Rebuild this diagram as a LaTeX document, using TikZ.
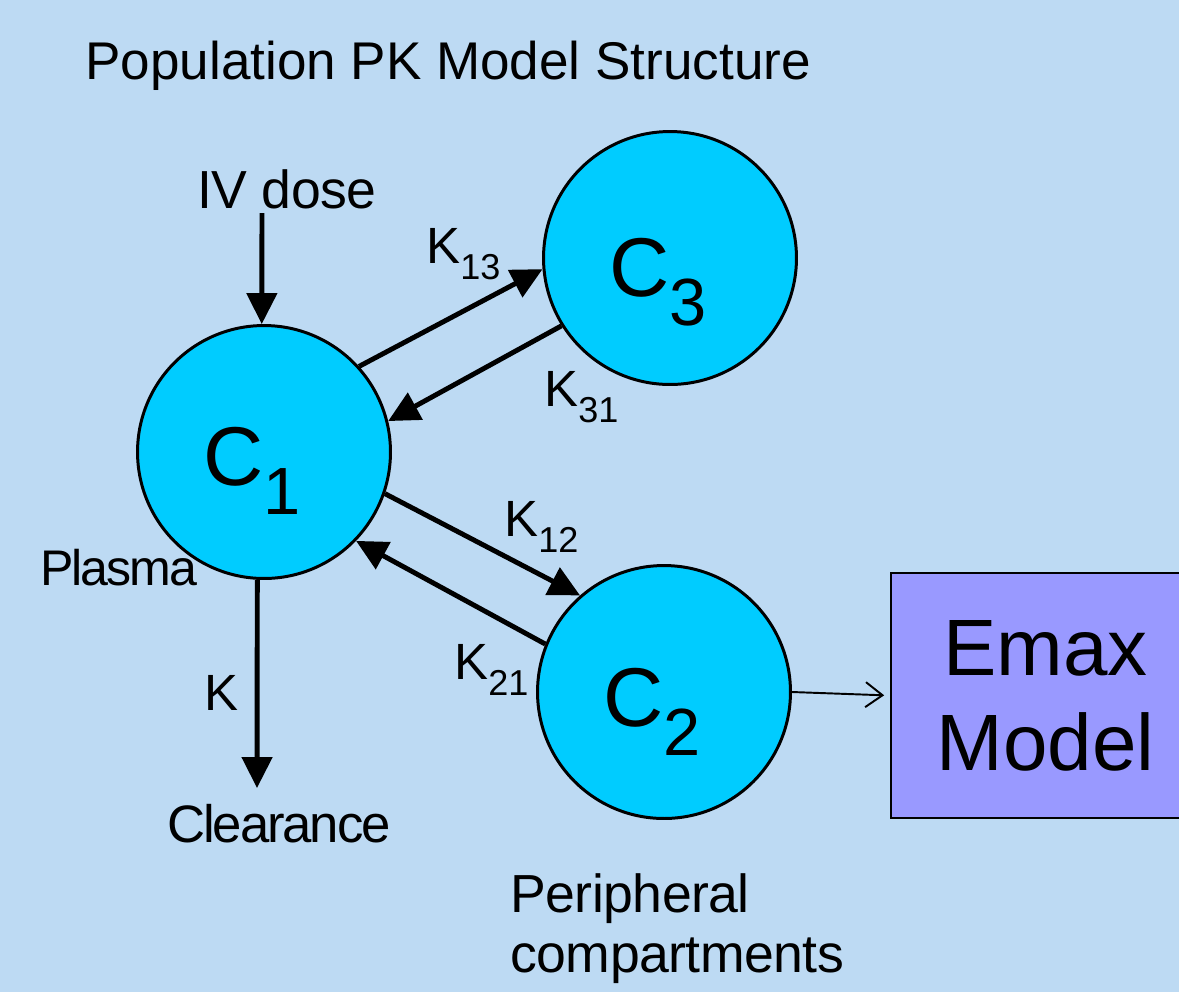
\documentclass[tikz,border=0pt]{standalone}
\usepackage{fontspec}
\setmainfont{Liberation Sans}
\newfontfamily\tightfont[LetterSpace=-4]{Liberation Sans}
\newfontfamily\midfont[LetterSpace=-1]{Liberation Sans}
\usetikzlibrary{arrows.meta}
\definecolor{bgblue}{RGB}{189,218,243}
\definecolor{compcyan}{RGB}{0,204,255}
\definecolor{emaxviolet}{RGB}{153,153,255}
\newcommand\ksub[1]{\raisebox{-9.5pt}{\fontsize{20.5}{24}\selectfont #1}}
\newcommand\csub[1]{\raisebox{-17pt}{\fontsize{38}{44}\selectfont #1}}
\tikzset{
  comp/.style={circle, draw=black, line width=1.7pt, fill=compcyan, minimum size=5.06cm, inner sep=0pt},
  ctext/.style={inner sep=0pt, font=\fontsize{47.5}{56}\selectfont},
  flow/.style={line width=2.8pt, -{Triangle[length=0.62cm,width=0.6cm]}},
  klabel/.style={inner sep=0pt, font=\fontsize{29}{35}\selectfont},
  lbl/.style={inner sep=0pt, font=\midfont\fontsize{30.5}{34}\selectfont},
  tlbl/.style={inner sep=0pt, font=\tightfont\fontsize{28.5}{34}\selectfont},
  thinarrow/.style={line width=1.1pt, -{Straight Barb[length=0.34cm,width=0.5cm]}},
}
\begin{document}
\begin{tikzpicture}[x=0.02cm, y=-0.02cm]
\useasboundingbox (0,0) rectangle (1179,992);
\fill[bgblue] (0,0) rectangle (1179,992);
\clip (0,0) rectangle (1179,992);

% title
\node[inner sep=0pt, anchor=base west, font=\fontsize{30.2}{36}\selectfont] (title) at (85,79) {Population PK Model Structure};

% compartments
\node[comp] (C1) at (264,452) {};
\node[comp] (C3) at (670,258) {};
\node[comp] (C2) at (664,692) {};
\node[ctext, anchor=base west] (C1t) at (203,485) {C\csub{1}};
\node[ctext, anchor=base west] (C3t) at (609,296) {C\csub{3}};
\node[ctext, anchor=base west] (C2t) at (603,726) {C\csub{2}};

% Emax box
\node[draw=black, line width=1pt, fill=emaxviolet, minimum width=5.98cm, minimum height=4.9cm,
      inner sep=0pt, align=center, font=\fontsize{45.5}{54}\selectfont] (emax) at (1040.5,695.5) {\hspace*{0.2cm}Emax\\\hspace*{0.2cm}Model};

% labels
\node[lbl, anchor=base west] (iv) at (197,208) {IV dose};
\coordinate (ivs) at (262,213);
\node[tlbl, anchor=base west] (plasma) at (40,585) {Plasma};
\node[tlbl, anchor=base west, font=\tightfont\fontsize{30}{34}\selectfont] (clear) at (167,842) {Clearance};
\coordinate (clr) at (257,788);
\node[lbl, anchor=base west, align=left] (periph) at (510,972) {Peripheral\\compartments};

\node[klabel, anchor=base west] (k13) at (426,263) {K\ksub{13}};
\node[klabel, anchor=base west] (k31) at (544,406) {K\ksub{31}};
\node[klabel, anchor=base west] (k12) at (504,536) {K\ksub{12}};
\node[klabel, anchor=base west] (k21) at (454,679) {K\ksub{21}};
\node[klabel, anchor=base west] (k) at (204,710) {K};

% connectors
\draw[flow] (ivs) -- (C1.91);
\draw[flow] (C1.42) -- (C3.185);
\draw[flow] (C3.212) -- (C1.14);
\draw[flow] (C1.-19) -- (C2.131);
\draw[flow] (C2.158) -- (C1.-44);
\draw[flow] (C1.-93) -- (clr);
\draw[thinarrow, shorten >=0.12cm] (C2.east) -- (emax.west);
\end{tikzpicture}
\end{document}
